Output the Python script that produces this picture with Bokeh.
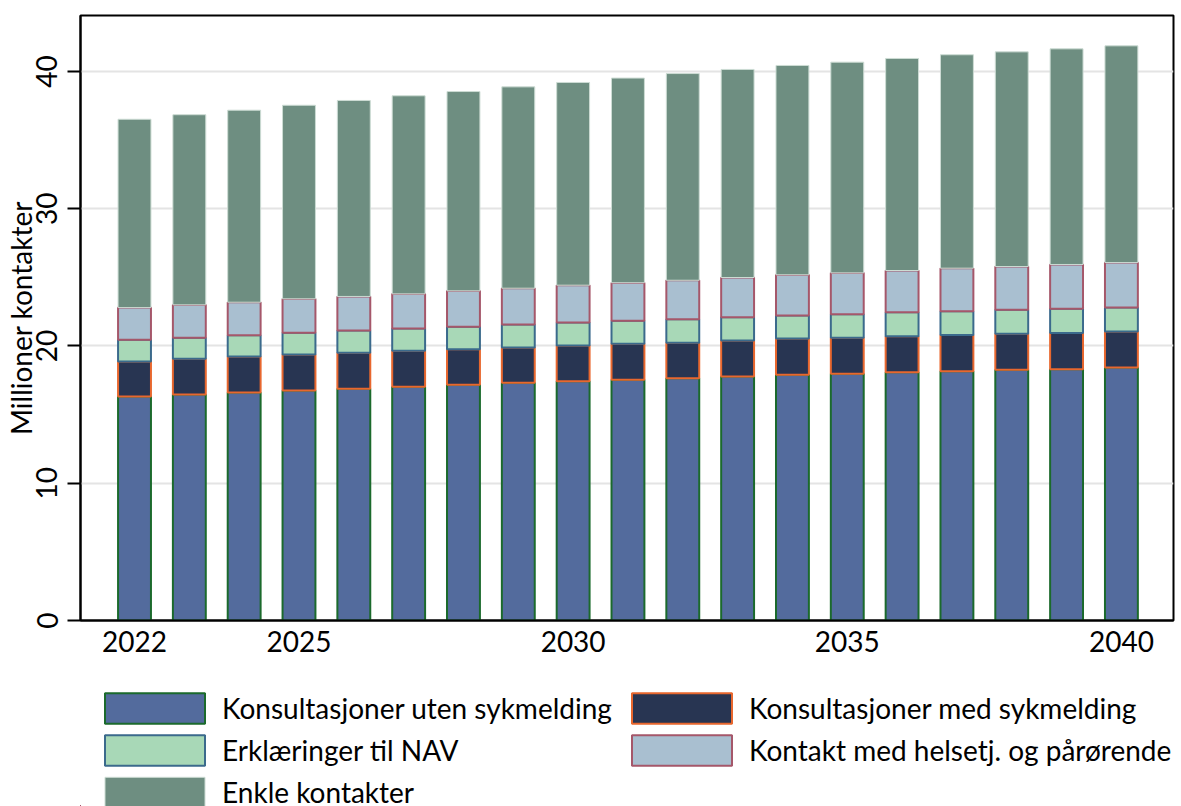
from bokeh.plotting import figure
from bokeh.layouts import column
from bokeh.models import Legend, LegendItem, ColumnDataSource, FixedTicker, Range1d
from bokeh.embed import file_html
from bokeh.resources import INLINE

years = list(range(2022, 2041))
uten_sykmelding = [16.32, 16.47, 16.61, 16.76, 16.88, 17.03, 17.17, 17.32, 17.44, 17.54,
                   17.65, 17.78, 17.90, 17.97, 18.09, 18.16, 18.27, 18.31, 18.43]
med_sykmelding = [2.55, 2.60, 2.63, 2.62, 2.62, 2.62, 2.60, 2.57, 2.60, 2.62,
                  2.58, 2.62, 2.65, 2.63, 2.62, 2.65, 2.62, 2.63, 2.63]
erklaeringer_nav = [1.58, 1.53, 1.55, 1.58, 1.63, 1.63, 1.63, 1.68, 1.67, 1.68,
                    1.72, 1.70, 1.67, 1.72, 1.75, 1.73, 1.75, 1.77, 1.75]
kontakt_helsetj = [2.35, 2.40, 2.40, 2.48, 2.48, 2.52, 2.62, 2.64, 2.72, 2.77,
                   2.84, 2.89, 2.97, 3.01, 3.04, 3.13, 3.15, 3.23, 3.27]
enkle_kontakter = [13.72, 13.85, 13.99, 14.10, 14.28, 14.43, 14.52, 14.67, 14.77, 14.91,
                   15.06, 15.16, 15.25, 15.35, 15.45, 15.55, 15.64, 15.71, 15.79]

series_keys = ["uten", "med", "nav", "helse", "enkle"]
series_labels = ["Konsultasjoner uten sykmelding", "Konsultasjoner med sykmelding",
                 "Erklæringer til NAV", "Kontakt med helsetj. og pårørende",
                 "Enkle kontakter"]
fill_colors = ["#536b9d", "#283552", "#a8d8b7", "#a9bfd0", "#6e8e81"]
line_colors = ["#1b6a2c", "#e8672e", "#3b6a8c", "#a5576a", "#cddcd4"]
line_widths = [2, 2, 2, 2, 1]

x_ticks = [2022, 2025, 2030, 2035, 2040]
y_ticks = [0, 10, 20, 30, 40]

source = ColumnDataSource(dict(year=years, uten=uten_sykmelding, med=med_sykmelding,
                               nav=erklaeringer_nav, helse=kontakt_helsetj,
                               enkle=enkle_kontakter))

FONT = "Lato"
FS = "28px"

# ---------------- main chart ----------------
p = figure(width=1181, height=680, output_backend="svg", toolbar_location=None,
           x_range=Range1d(2021.015, 2040.95), y_range=Range1d(0, 44.08),
           min_border_left=80, min_border_right=8, min_border_top=15,
           min_border_bottom=60)

renderers = p.vbar_stack(series_keys, x="year", width=0.6, source=source,
                         fill_color=fill_colors, line_color=line_colors,
                         line_width=line_widths)

p.outline_line_color = "black"
p.outline_line_width = 2
p.outline_line_alpha = 1
p.background_fill_color = "white"
p.border_fill_color = "white"

p.xgrid.visible = False
p.ygrid.grid_line_color = "#e4e4e4"
p.ygrid.grid_line_width = 2
p.ygrid.ticker = FixedTicker(ticks=y_ticks)

p.yaxis.ticker = FixedTicker(ticks=y_ticks)
p.yaxis.major_label_orientation = "vertical"
p.yaxis.axis_label = "Millioner kontakter"
p.yaxis.axis_label_text_font = FONT
p.yaxis.axis_label_text_font_style = "normal"
p.yaxis.axis_label_text_font_size = FS
p.yaxis.axis_label_text_color = "black"
p.yaxis.axis_label_standoff = -4
p.yaxis.major_label_text_font = FONT
p.yaxis.major_label_text_font_size = FS
p.yaxis.major_label_text_color = "black"
p.yaxis.major_label_standoff = 10
p.yaxis.major_tick_out = 13
p.yaxis.major_tick_in = 0
p.yaxis.major_tick_line_width = 2
p.yaxis.minor_tick_line_color = None
p.yaxis.axis_line_width = 2

p.xaxis.ticker = FixedTicker(ticks=x_ticks)
p.xaxis.major_label_text_font = FONT
p.xaxis.major_label_text_font_size = FS
p.xaxis.major_label_text_color = "black"
p.xaxis.major_label_standoff = 10
p.xaxis.major_tick_out = 0
p.xaxis.major_tick_in = 0
p.xaxis.minor_tick_line_color = None
p.xaxis.axis_line_width = 2

# ---------------- legend panel (frame aligned with the chart above) ----------------
leg = figure(width=1181, height=126, output_backend="svg", toolbar_location=None,
             x_range=Range1d(2050, 2060), y_range=Range1d(100, 101),
             x_axis_location=None, y_axis_location=None, min_border=0)
leg.xgrid.visible = False
leg.ygrid.visible = False
leg.outline_line_color = None
leg.background_fill_color = "white"
leg.border_fill_color = "white"

# legend swatch renderers share the chart's data; they lie outside this panel's ranges
swatches = [leg.vbar(x="year", top=key, width=0.6, source=source, fill_color=fc,
                     line_color=lc, line_width=lw)
            for key, fc, lc, lw in zip(series_keys, fill_colors, line_colors, line_widths)]
items = [LegendItem(label=lab, renderers=[r]) for lab, r in zip(series_labels, swatches)]

common = dict(label_text_font=FONT, label_text_font_size=FS, label_text_color="black",
              glyph_width=125, glyph_height=38, label_height=38, spacing=4,
              label_standoff=5, padding=0, margin=0,
              background_fill_alpha=0, border_line_alpha=0)
legend_left = Legend(items=[items[0], items[2], items[4]], location=(12, -5), **common)
legend_right = Legend(items=[items[1], items[3]], location=(539, 37), **common)
leg.add_layout(legend_left)
leg.add_layout(legend_right)

layout = column(p, leg, spacing=0)
open("out.html", "w").write(file_html(layout, INLINE))
